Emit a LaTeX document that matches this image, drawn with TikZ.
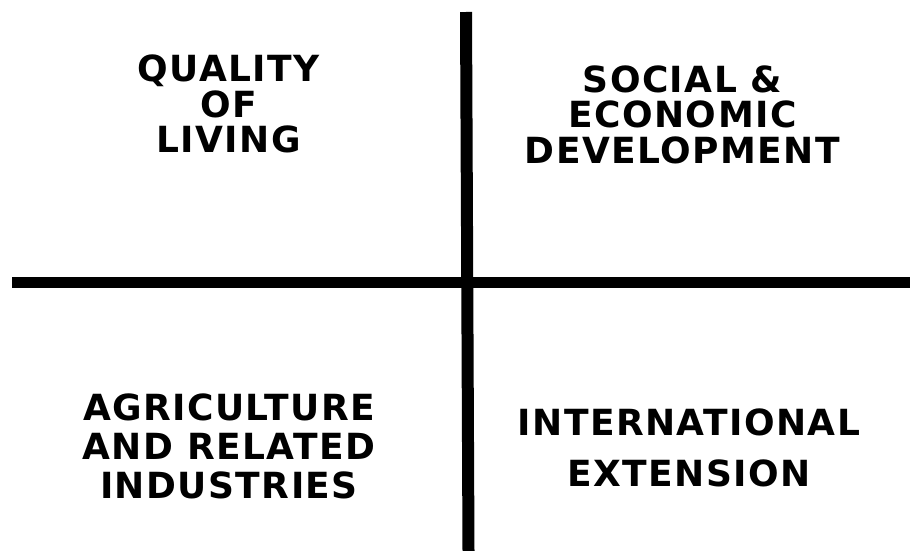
\documentclass[tikz,border=0pt]{standalone}
\usepackage{fontspec}
\setmainfont{DejaVu Sans}[LetterSpace=4]
\begin{document}
\begin{tikzpicture}[x=1pt,y=-1pt,
  label/.style={align=center,inner sep=0pt,font=\bfseries\fontsize{36}{35.5}\selectfont}]
\useasboundingbox (0,0) rectangle (910,551);
\coordinate (vt) at (466,12);
\coordinate (vb) at (468.5,551);
\coordinate (hl) at (12,282);
\coordinate (hr) at (910,282);
\draw[line width=12pt] (vt) -- (vb);
\draw[line width=11pt] (hl) -- (hr);
\node[label] (q1) at (228.5,104) {QUALITY\\OF\\LIVING};
\node[label] (q2) at (682.5,114.5) {SOCIAL \&\\ECONOMIC\\DEVELOPMENT};
\node[label,font=\bfseries\fontsize{36}{39}\selectfont] (q3) at (229,446) {AGRICULTURE\\AND RELATED\\INDUSTRIES};
\node[label,font=\bfseries\fontsize{36}{51}\selectfont] (q4) at (689,447.5) {INTERNATIONAL\\EXTENSION};
\end{tikzpicture}
\end{document}
